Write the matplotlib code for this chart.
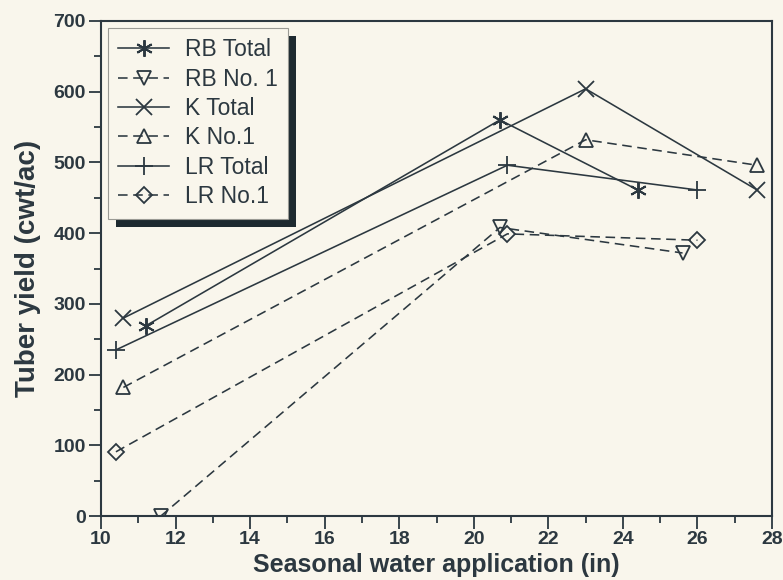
import matplotlib
matplotlib.use("Agg")
import matplotlib.pyplot as plt
import matplotlib.patheffects as pe
from matplotlib.ticker import MultipleLocator

# Data
rb_total_x = [11.2, 20.7, 24.4]
rb_total_y = [269, 560, 461]
rb_no1_x = [11.6, 20.7, 25.6]
rb_no1_y = [0, 408, 372]
k_total_x = [10.6, 23.0, 27.6]
k_total_y = [280, 604, 461]
k_no1_x = [10.6, 23.0, 27.6]
k_no1_y = [182, 532, 496]
lr_total_x = [10.4, 20.9, 26.0]
lr_total_y = [235, 496, 461]
lr_no1_x = [10.4, 20.9, 26.0]
lr_no1_y = [91, 399, 390]

labels = ["RB Total", "RB No. 1", "K Total", "K No.1", "LR Total", "LR No.1"]
x_ticks = [10, 12, 14, 16, 18, 20, 22, 24, 26, 28]
y_ticks = [0, 100, 200, 300, 400, 500, 600, 700]

ink = "#2c3840"
bg = "#f9f6ec"

plt.rcParams["font.family"] = ["Liberation Sans", "DejaVu Sans"]

fig = plt.figure(figsize=(7.83, 5.80), dpi=100, facecolor=bg)
ax = fig.add_axes([0.129, 0.110, 0.857, 0.854])
ax.set_facecolor(bg)

dash = (0, (6, 3.5))
common = dict(color=ink, lw=1.15)
ax.plot(rb_total_x, rb_total_y, ls="-", marker=(6, 2, 0), ms=12, mew=1.4, label=labels[0], **common)
ax.plot(rb_no1_x, rb_no1_y, ls=dash, marker="v", ms=9.5, mew=1.3, mfc="none", label=labels[1], **common)
ax.plot(k_total_x, k_total_y, ls="-", marker="x", ms=11, mew=1.3, label=labels[2], **common)
ax.plot(k_no1_x, k_no1_y, ls=dash, marker="^", ms=9.5, mew=1.3, mfc="none", label=labels[3], **common)
ax.plot(lr_total_x, lr_total_y, ls="-", marker="+", ms=13, mew=1.3, label=labels[4], **common)
ax.plot(lr_no1_x, lr_no1_y, ls=dash, marker="D", ms=8.5, mew=1.3, mfc="none", label=labels[5], **common)

ax.set_xlim(10, 28)
ax.set_ylim(0, 700)
ax.set_xticks(x_ticks)
ax.set_yticks(y_ticks)
ax.xaxis.set_minor_locator(MultipleLocator(1))
ax.yaxis.set_minor_locator(MultipleLocator(50))
ax.tick_params(which="major", direction="out", length=9, width=1.3, color=ink,
               labelsize=14, labelcolor=ink, pad=2)
ax.tick_params(which="minor", direction="out", length=5, width=1.3, color=ink)
for s in ax.spines.values():
    s.set_color(ink)
    s.set_linewidth(1.5)
for lab in ax.get_xticklabels() + ax.get_yticklabels():
    lab.set_fontweight("bold")

ax.set_xlabel("Seasonal water application (in)", fontsize=18, fontweight="bold", color=ink, labelpad=3)
ax.set_ylabel("Tuber yield (cwt/ac)", fontsize=20, fontweight="bold", color=ink, labelpad=9)

leg = ax.legend(loc="upper left", bbox_to_anchor=(0.0104, 0.986), frameon=True,
                fancybox=False, handlelength=2.2, handletextpad=0.7, labelspacing=0.28,
                borderpad=0.45, borderaxespad=0.0, prop={"weight": "normal", "size": 16.5})
for t in leg.get_texts():
    t.set_color(ink)
frame = leg.get_frame()
frame.set_facecolor(bg)
frame.set_edgecolor("#9a9a94")
frame.set_linewidth(0.8)
frame.set_alpha(1)
frame.set_path_effects([pe.SimplePatchShadow(offset=(6, -6), shadow_rgbFace="#1e2a30", alpha=1.0),
                        pe.Normal()])

fig.savefig("out.png", dpi=100, facecolor=bg)
